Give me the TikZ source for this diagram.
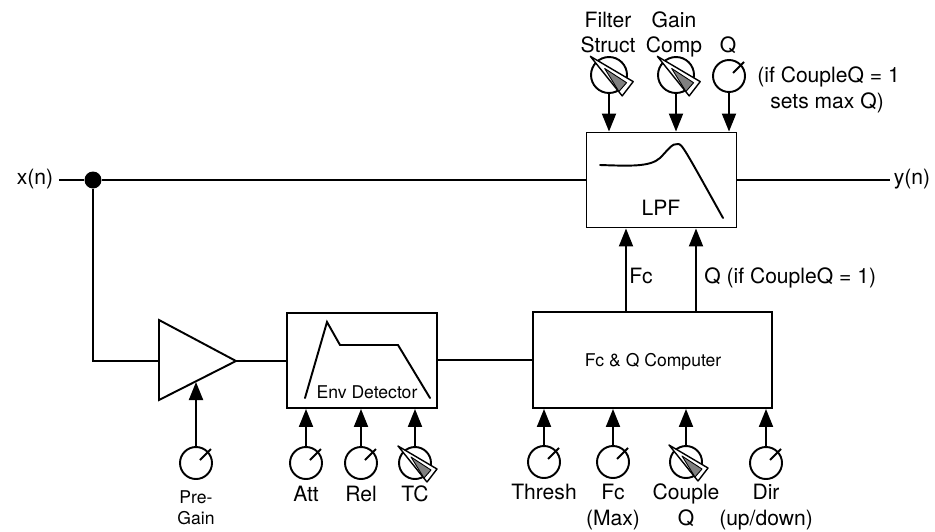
\documentclass[tikz,border=0pt]{standalone}
\usepackage{fontspec}
\setmainfont{TeX Gyre Heros}
\usetikzlibrary{arrows.meta}
\tikzset{
  wire/.style={line width=1.1pt},
  sig/.style={wire,-{Triangle[length=.36cm,width=.28cm]}},
  box/.style={draw,line width=1.1pt,inner sep=0pt,minimum width=3cm,minimum height=1.9cm},
  knob/.style={circle,draw,fill=white,line width=1.1pt,inner sep=0pt,minimum size=.64cm},
  lab/.style={inner sep=0pt,anchor=base,font=\fontsize{12}{14}\selectfont},
  smalllab/.style={inner sep=0pt,anchor=base,font=\fontsize{10}{12}\selectfont},
  fancyptr/.pic={
    \draw[line width=.8pt,fill=white,line join=round] (-17,-17) -- (22,6) -- (12,19) -- cycle;
    \draw[line width=.5pt,fill=black!50,line join=round] (-4,-6) -- (16,7) -- (9,15) -- cycle;
  }
}
\begin{document}
\begin{tikzpicture}[x=.02cm,y=-.02cm]
  \useasboundingbox (0,0) rectangle (935,531);

  % main path
  \node[lab] (xn) at (35,184) {x(n)};
  \node[lab] (yn) at (912,184) {y(n)};
  \node[circle,fill=black,inner sep=0pt,minimum size=.34cm] (split) at (93,180) {};
  \coordinate (xnend) at (59,180);
  \coordinate (ynend) at (890,180);
  \node[box] (lpf) at (661.5,180) {};
  \node[lab] (lpftxt) at (661,215) {LPF};
  \draw[wire] (xnend) -- (split);
  \draw[wire] (split) -- (lpf);
  \draw[wire] (lpf) -- (ynend);
  \draw[wire,line cap=round] (600,165) .. controls (630,166) and (650,167) .. (660,158)
     .. controls (668,150) and (672,143) .. (678,144) .. controls (682,144) and (684,148) .. (723,218);

  % lower path
  \coordinate (ampw) at (159,361);
  \coordinate (ampe) at (236,361);
  \coordinate (ampb) at (196,382);
  \draw[wire,line join=miter] (159,320) -- (ampe) -- (159,400) -- cycle;
  \node[box] (env) at (362,360.5) {};
  \node[box,minimum width=4.78cm,minimum height=1.92cm] (comp) at (652.5,360) {};
  \node[smalllab] (envtxt) at (367,398) {Env Detector};
  \node[smalllab] (comptxt) at (653,366) {Fc \& Q Computer};
  \draw[wire] (split) |- (ampw);
  \draw[wire] (ampe) -- (env.west |- ampe);
  \draw[wire] (env.east |- comp) -- (comp);
  \draw[wire,line cap=round] (305,398) -- (327,322) -- (340,345) -- (398,345) -- (430,398);

  % Fc and Q out of the computer
  \draw[sig] (comp.north -| 626,0) -- (lpf.south -| 626,0);
  \draw[sig] (comp.north -| 696,0) -- (lpf.south -| 696,0);
  \node[lab,anchor=base west] (fclab) at (629,283) {Fc};
  \node[lab,anchor=base west] (qlab) at (704,283) {Q (if CoupleQ = 1)};

  % knobs
  \foreach \name/\x/\y in {pregain/196/463,att/306/463,rel/361/463,thresh/544/462,fcmax/613/462,dir/766/463,qk/729/76}{
    \node[knob] (\name) at (\x,\y) {};
    \draw[wire] (\x+4,\y-3) -- (\x+15,\y-14);
  }
  \foreach \name/\x/\y in {tc/415/463,couple/686/462}{
    \node[knob] (\name) at (\x,\y) {};
    \pic at (\x,\y) {fancyptr};
  }
  \foreach \name/\x/\y in {struct/609/75,gain/676/75}{
    \node[knob,minimum size=.72cm] (\name) at (\x,\y) {};
    \pic[scale=1.1] at (\x,\y) {fancyptr};
  }

  % knob arrows
  \draw[sig] (pregain) -- (ampb);
  \foreach \name in {att,rel,tc}
    \draw[sig] (\name.north) -- (\name.north |- env.south);
  \foreach \name in {thresh,fcmax,couple,dir}
    \draw[sig] (\name.north) -- (\name.north |- comp.south);
  \foreach \name in {struct,gain,qk}
    \draw[sig] (\name.south) -- (\name.south |- lpf.north);

  % knob labels
  \foreach \txt/\x/\y in {Filter/608/27,Struct/608/52,Gain/674/27,Comp/674/52,Q/728/52,
      Att/306/501,Rel/361/501,TC/415/501,Thresh/544/499,Fc/613/499,(Max)/613/525,
      Couple/686/499,Q/686/525,Dir/766/499,(up\slash down)/766/525}
    \node[lab] (lab\x\y) at (\x,\y) {\txt};
  \node[smalllab] (pre) at (196,503) {Pre-};
  \node[smalllab] (gaintxt) at (196,524) {Gain};
  \node[lab,anchor=base west] (ifq) at (757,82) {(if CoupleQ = 1};
  \node[lab,anchor=base west] (setq) at (770,108) {sets max Q)};
\end{tikzpicture}
\end{document}
